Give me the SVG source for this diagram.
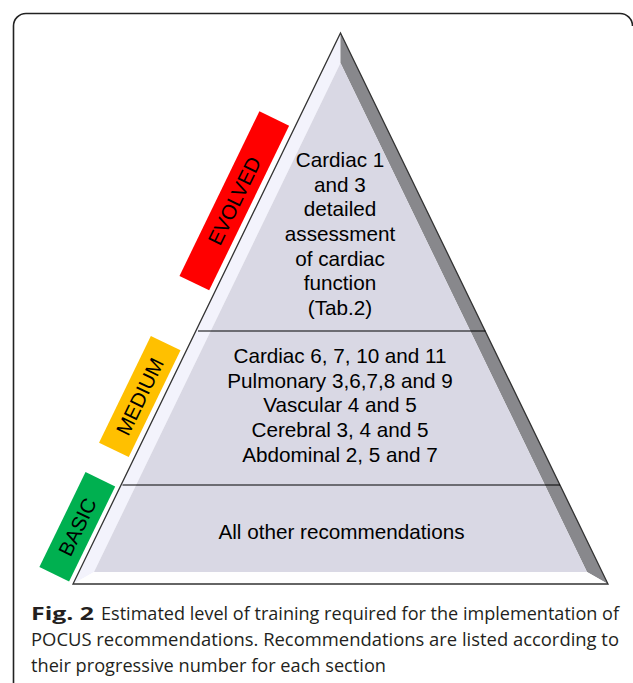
<svg xmlns="http://www.w3.org/2000/svg" width="633" height="683" viewBox="0 0 633 683">
<style>
.pt{font-family:"Liberation Sans",Arial,sans-serif;font-size:20.7px;fill:#000;text-anchor:middle}
.lb{font-family:"Liberation Sans",Arial,sans-serif;font-size:20.5px;fill:#000;text-anchor:middle}
.cap{font-family:"Open Sans","Noto Sans",sans-serif;font-size:18px;fill:#231f20}
.div{stroke:#000;stroke-width:1.2;fill:none}
</style>
<rect width="633" height="683" fill="#fff"/>
<path d="M13.5,683 V26 A12.5,12.5 0 0 1 26,13.5 H620 A12.5,12.5 0 0 1 632.5,26" fill="none" stroke="#222" stroke-width="1.6"/>
<g id="pyramid">
<polygon points="340.5,33 340.5,63 94,572 73,584" fill="#f3f3fc"/>
<polygon points="340.5,33 608,584 587,572 340.5,63" fill="#88888c"/>
<polygon points="73,584 608,584 587,572 94,572" fill="#fefefe"/>
<polygon points="340.5,63 587,572 94,572" fill="#d9d8e4"/>
<polygon points="340.5,33 608,584 73,584" fill="none" stroke="#333" stroke-width="1.3" stroke-linejoin="miter"/>
</g>
<g id="connectors">
<line class="div" x1="198" y1="331" x2="485.5" y2="331"/>
<line class="div" x1="122.5" y1="485" x2="560" y2="485"/>
</g>
<g id="evolved-text">
<text class="pt" x="340" y="167">Cardiac 1</text>
<text class="pt" x="340" y="192">and 3</text>
<text class="pt" x="340" y="216">detailed</text>
<text class="pt" x="340" y="241">assessment</text>
<text class="pt" x="340" y="266">of cardiac</text>
<text class="pt" x="340" y="290">function</text>
<text class="pt" x="340" y="315">(Tab.2)</text>
</g>
<g id="medium-text">
<text class="pt" x="340" y="363" textLength="213" lengthAdjust="spacing">Cardiac 6, 7, 10 and 11</text>
<text class="pt" x="340" y="388">Pulmonary 3,6,7,8 and 9</text>
<text class="pt" x="340" y="412">Vascular 4 and 5</text>
<text class="pt" x="340" y="437">Cerebral 3, 4 and 5</text>
<text class="pt" x="340" y="462">Abdominal 2, 5 and 7</text>
</g>
<g id="basic-text">
<text class="pt" x="341.5" y="539">All other recommendations</text>
</g>
<g id="label-evolved" transform="translate(234.3,200.8) rotate(-64.1)">
<rect x="-91.5" y="-16.5" width="183" height="33" fill="#ff0000"/>
<text class="lb" x="0" y="7.3">EVOLVED</text>
</g>
<g id="label-medium" transform="translate(139.8,396.5) rotate(-64.1)">
<rect x="-59.3" y="-16.5" width="118.6" height="33" fill="#ffc000"/>
<text class="lb" x="0" y="7.3">MEDIUM</text>
</g>
<g id="label-basic" transform="translate(77.3,526.8) rotate(-64.1)">
<rect x="-52.8" y="-16.5" width="105.6" height="33" fill="#00b050"/>
<text class="lb" x="0" y="7.3">BASIC</text>
</g>
<g id="caption">
<text class="cap" x="31" y="620" font-weight="bold" textLength="63" lengthAdjust="spacingAndGlyphs">Fig. 2</text>
<text class="cap" x="101" y="620" textLength="518" lengthAdjust="spacingAndGlyphs">Estimated level of training required for the implementation of</text>
<text class="cap" x="31" y="646" textLength="588" lengthAdjust="spacingAndGlyphs">POCUS recommendations. Recommendations are listed according to</text>
<text class="cap" x="31" y="672" textLength="355" lengthAdjust="spacingAndGlyphs">their progressive number for each section</text>
</g>
</svg>
